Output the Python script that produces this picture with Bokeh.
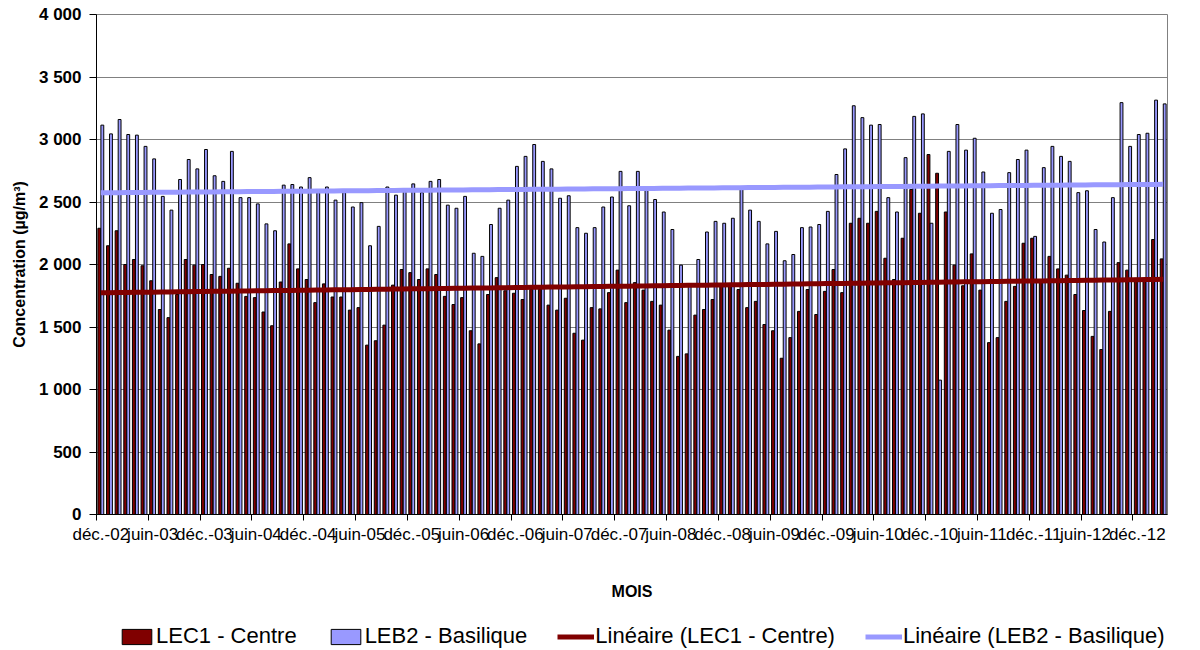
import numpy as np
from bokeh.plotting import figure
from bokeh.layouts import column
from bokeh.models import (ColumnDataSource, FixedTicker, Legend,
                          LegendItem, Range1d, LinearAxis)
from bokeh.transform import dodge
from bokeh.embed import file_html
from bokeh.resources import INLINE

# ---------------- data ----------------
mois_noms = ["janv.", "févr.", "mars", "avr.", "mai", "juin",
             "juil.", "août", "sept.", "oct.", "nov.", "déc."]
mois = (["déc.-02"] + [f"{m}-{a:02d}" for a in range(3, 13) for m in mois_noms]
        + ["janv.-13", "févr.-13", "mars-13"])

lec1 = [2290, 2150, 2270, 2000, 2040, 1990, 1870, 1640, 1575, 1760,
        2040, 1995, 2000, 1920, 1905, 1970, 1850, 1745, 1735, 1620,
        1510, 1860, 2165, 1965, 1880, 1695, 1845, 1740, 1740, 1635,
        1655, 1355, 1390, 1515, 1835, 1960, 1935, 1880, 1965, 1920,
        1745, 1680, 1735, 1470, 1365, 1760, 1895, 1790, 1770, 1720,
        1800, 1800, 1675, 1635, 1730, 1450, 1395, 1655, 1645, 1775,
        1955, 1695, 1855, 1795, 1705, 1675, 1475, 1265, 1285, 1595,
        1640, 1720, 1845, 1840, 1800, 1655, 1705, 1520, 1470, 1250,
        1415, 1625, 1800, 1600, 1785, 1960, 1775, 2330, 2370, 2330,
        2425, 2050, 1880, 2210, 2600, 2410, 2880, 2730, 2420, 1995,
        1830, 2085, 1795, 1375, 1415, 1705, 1825, 2170, 2210, 1860,
        2065, 1965, 1915, 1760, 1632, 1425, 1320, 1625, 2015, 1955,
        1890, 1880, 2200, 2045]

leb2 = [3115, 3045, 3160, 3040, 3035, 2945, 2845, 2545, 2435, 2680,
        2840, 2765, 2920, 2710, 2665, 2905, 2535, 2535, 2485, 2325,
        2270, 2635, 2640, 2620, 2695, 2575, 2620, 2515, 2575, 2460,
        2495, 2150, 2305, 2620, 2555, 2585, 2645, 2575, 2665, 2680,
        2475, 2450, 2545, 2090, 2065, 2320, 2450, 2515, 2785, 2865,
        2960, 2825, 2765, 2530, 2550, 2295, 2250, 2295, 2460, 2540,
        2745, 2470, 2745, 2600, 2520, 2420, 2280, 1995, 1840, 2040,
        2260, 2345, 2330, 2370, 2600, 2435, 2345, 2165, 2265, 2030,
        2080, 2295, 2300, 2320, 2425, 2720, 2925, 3270, 3175, 3115,
        3120, 2535, 2420, 2855, 3185, 3205, 2330, 1075, 2905, 3120,
        2915, 3010, 2740, 2410, 2440, 2735, 2840, 2915, 2225, 2775,
        2945, 2865, 2825, 2575, 2590, 2280, 2180, 2535, 3295, 2945,
        3040, 3050, 3315, 3285]

y_ticks = [0, 500, 1000, 1500, 2000, 2500, 3000, 3500, 4000]
y_tick_labels = ["0", "500", "1 000", "1 500", "2 000", "2 500", "3 000", "3 500", "4 000"]
label_step = 6

# ---------------- chart ----------------
x = np.arange(len(mois))
t1 = np.polyval(np.polyfit(x, lec1, 1), x)
t2 = np.polyval(np.polyfit(x, leb2, 1), x)
src = ColumnDataSource(dict(x=x, mois=mois, lec1=lec1, leb2=leb2, t1=t1, t2=t2))

RED = "#800000"
BLUE = "#9999FF"
FONT = "Liberation Sans"

p = figure(width=1200, height=622,
           x_range=Range1d(-0.5, len(mois) - 0.5), y_range=Range1d(0, 4000),
           output_backend="svg", toolbar_location=None, x_axis_location=None,
           min_border_left=96, min_border_right=33, min_border_top=14,
           min_border_bottom=108,
           background_fill_color="white", border_fill_color="white")
p.outline_line_color = "#808080"
p.outline_line_width = 1

bar_style = dict(width=0.33, line_color="black", line_width=1)
r_lec1 = p.vbar(x=dodge("x", -0.175, range=p.x_range), top="lec1",
                source=src, fill_color=RED, **bar_style)
r_leb2 = p.vbar(x=dodge("x", 0.175, range=p.x_range), top="leb2",
                source=src, fill_color=BLUE, **bar_style)
r_t1 = p.line("x", "t1", source=src, line_color=RED, line_width=5)
r_t2 = p.line("x", "t2", source=src, line_color=BLUE, line_width=5)

# y axis
yax = p.yaxis[0]
yax.ticker = FixedTicker(ticks=y_ticks)
yax.major_label_overrides = {t: l for t, l in zip(y_ticks, y_tick_labels)}
yax.major_label_text_font = FONT
yax.major_label_text_font_style = "bold"
yax.major_label_text_font_size = "17px"
yax.major_label_text_color = "black"
yax.major_label_standoff = 8
yax.major_tick_out = 7
yax.major_tick_in = 0
yax.minor_tick_line_color = None
yax.axis_line_color = "black"
yax.major_tick_line_color = "black"
yax.axis_label = "Concentration (µg/m³)"
yax.axis_label_text_font = FONT
yax.axis_label_text_font_style = "bold"
yax.axis_label_text_font_size = "16px"
yax.axis_label_text_color = "black"
yax.axis_label_standoff = 8

p.ygrid.ticker = FixedTicker(ticks=y_ticks)
p.ygrid.grid_line_color = "#808080"
p.ygrid.grid_line_width = 1
p.xgrid.visible = False

# x axis: labels centred on categories, tick marks at category boundaries
lab_pos = list(range(0, len(mois) - 3, label_step))
bounds = [i - 0.5 for i in lab_pos]
xax = LinearAxis(ticker=FixedTicker(ticks=lab_pos, minor_ticks=bounds),
                 major_label_overrides={i: mois[i] for i in lab_pos},
                 major_label_text_font=FONT, major_label_text_font_size="17px",
                 major_label_text_color="black", major_label_standoff=4,
                 major_tick_line_color=None, major_tick_out=6, major_tick_in=0,
                 minor_tick_line_color="black", minor_tick_out=6, minor_tick_in=0,
                 axis_line_color="black",
                 axis_label="MOIS", axis_label_text_font=FONT,
                 axis_label_text_font_style="bold",
                 axis_label_text_font_size="16px",
                 axis_label_text_color="black", axis_label_standoff=36)
p.add_layout(xax, "below")

# ---------------- legend strip ----------------
# same series, drawn in a strip whose y-range shows none of them:
# they only provide the legend swatches
lf = figure(width=1200, height=28, output_backend="svg", toolbar_location=None,
            x_axis_location=None, y_axis_location=None,
            x_range=Range1d(-0.5, len(mois) - 0.5), y_range=Range1d(5000, 6000),
            min_border_left=96, min_border_right=33, min_border_top=0,
            min_border_bottom=0, outline_line_color=None,
            background_fill_color="white", border_fill_color="white")
lf.grid.visible = False
l1 = lf.vbar(x="x", top="lec1", source=src, fill_color=RED, **bar_style)
l2 = lf.vbar(x="x", top="leb2", source=src, fill_color=BLUE, **bar_style)
l3 = lf.line("x", "t1", source=src, line_color=RED, line_width=5)
l4 = lf.line("x", "t2", source=src, line_color=BLUE, line_width=5)

legend = Legend(items=[
    LegendItem(label="LEC1 - Centre", renderers=[l1]),
    LegendItem(label="LEB2 - Basilique", renderers=[l2]),
    LegendItem(label="Linéaire (LEC1 - Centre)", renderers=[l3]),
    LegendItem(label="Linéaire (LEB2 - Basilique)", renderers=[l4]),
], orientation="horizontal", location=(22, 1),
    glyph_width=37, glyph_height=19, label_standoff=1, spacing=30,
    padding=0, margin=0, border_line_color=None, background_fill_alpha=0,
    label_text_font=FONT, label_text_font_size="22px", label_text_color="black",
    label_height=20)
lf.add_layout(legend)

page = column(p, lf, spacing=0)
open("out.html", "w").write(file_html(page, INLINE))
